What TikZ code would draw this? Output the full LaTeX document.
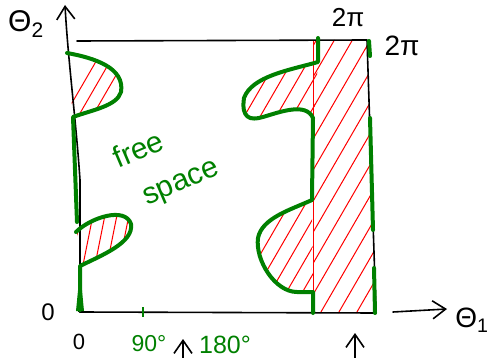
\documentclass[tikz,border=0pt]{standalone}
\usepackage{fontspec}
\setmainfont{Liberation Sans}
\usetikzlibrary{arrows.meta}
\definecolor{pgreen}{RGB}{0,128,0}
\definecolor{pred}{RGB}{255,0,0}
\begin{document}
\begin{tikzpicture}[x=1pt,y=-1pt,
  axis/.style={black, line width=1.6pt, line cap=round, line join=round},
  obst/.style={pgreen, line width=4pt, line cap=round, line join=round},
  hatch/.style={pred, line width=1pt},
  barb/.style={-{Straight Barb[length=13pt,width=18pt,line width=1.6pt]}},
  lbl/.style={inner sep=0pt, outer sep=0pt}]
\useasboundingbox (0,0) rectangle (489,358);
% coordinates
\coordinate (O) at (80,312);
\coordinate (Ytip) at (65,5);
\coordinate (TL) at (77,41);
\coordinate (TR) at (367,40);
\coordinate (BR) at (376,313);
\coordinate (RLt) at (313,41);
\coordinate (RLb) at (313,313);
% hatching: right strip
\begin{scope}
  \clip (313,40) -- (367,40) -- (375,313) -- (313,313) -- cycle;
  \foreach \i in {90,108,...,340} \draw[hatch] (\i,400) -- ++(220,-380);
\end{scope}
% upper right bump
\begin{scope}
  \clip (318,62) .. controls (290,70) and (252,76) .. (244,98) .. controls (241,118) and (250,121) .. (263,117) .. controls (280,112) and (306,102) .. (314,118) -- cycle;
  \foreach \i in {0,16,...,320} \draw[hatch] (\i,400) -- ++(220,-380);
\end{scope}
% lower right bump
\begin{scope}
  \clip (312,200) .. controls (290,210) and (262,218) .. (258,238) .. controls (255,260) and (275,292) .. (297,292) -- (313,292) -- cycle;
  \foreach \i in {0,16,...,320} \draw[hatch] (\i,400) -- ++(220,-380);
\end{scope}
% upper left bump
\begin{scope}
  \clip (67,53) .. controls (95,58) and (125,68) .. (121,92) .. controls (117,106) and (92,110) .. (73,117) -- cycle;
  \foreach \i in {-100,-86,...,100} \draw[hatch] (\i,400) -- ++(220,-380);
\end{scope}
% lower left bump
\begin{scope}
  \clip (77,232) .. controls (90,218) and (125,206) .. (131,224) .. controls (134,243) and (100,256) .. (80,266) -- cycle;
  \foreach \i in {20,32,...,140} \draw[hatch] (\i,400) -- ++(60,-300);
\end{scope}
% red boundary line
\draw[hatch] (RLt) -- (RLb);
% black frame and axes
\draw[axis, barb] (O) -- (80,180) .. controls (76,120) and (68,60) .. (Ytip);
\draw[axis] (TL) -- (TR) -- (BR);
\draw[axis] (O) -- (BR);
\fill (80,310) circle (2.5);
% green obstacle boundaries
\draw[obst] (67,53) .. controls (95,58) and (125,68) .. (121,92) .. controls (117,106) and (92,110) .. (73,117) -- (77,222);
\draw[obst] (76,232) .. controls (90,218) and (125,206) .. (131,224) .. controls (134,243) and (100,256) .. (80,266) -- (80,310);
\fill[pgreen] (80,270) -- (84,311) -- (76,311) -- cycle;
\draw[obst] (318,38) -- (318,62) .. controls (290,70) and (252,76) .. (244,98) .. controls (241,118) and (250,121) .. (263,117) .. controls (280,112) and (306,102) .. (313,118) -- (312,198) -- (312,200) .. controls (290,210) and (262,218) .. (258,238) .. controls (255,260) and (275,292) .. (297,292) -- (313,292) -- (313,313);
\draw[obst] (369,41) -- (370,56);
\draw[obst] (370,118) -- (373,230);
\draw[obst] (374,268) -- (375,313);
\draw[pgreen, line width=1.6pt] (143,307) -- (143,317);
% theta1 arrow and markers
\coordinate (a1s) at (393,312); \coordinate (a1e) at (447,309);
\draw[axis, barb] (a1s) -- (a1e);
\coordinate (u1s) at (183,358); \coordinate (u1e) at (183,339);
\draw[axis, barb] (u1s) -- (u1e);
\coordinate (u2s) at (355,358); \coordinate (u2e) at (355,333);
\draw[axis, barb] (u2s) -- (u2e);
% labels
\node[lbl, font=\fontsize{30}{30}\selectfont] (t2) at (26,24) {Θ\textsubscript{2}};
\node[lbl, font=\fontsize{26}{26}\selectfont] (tpi) at (348,18) {2π};
\node[lbl, font=\fontsize{28}{28}\selectfont] (rpi) at (402,46) {2π};
\node[lbl, font=\fontsize{24}{24}\selectfont] (z1) at (48,312) {0};
\node[lbl, font=\fontsize{22}{22}\selectfont] (z2) at (79,342) {0};
\node[lbl, pgreen, font=\fontsize{23}{23}\selectfont] (n90) at (149,344) {90°};
\node[lbl, pgreen, font=\fontsize{25}{25}\selectfont] (n180) at (225,345) {180°};
\node[lbl, pgreen, rotate=23, font=\fontsize{30}{30}\selectfont] (fs1) at (138,149) {free};
\node[lbl, pgreen, rotate=23, font=\fontsize{30}{30}\selectfont] (fs2) at (182,185) {space};
\node[lbl, font=\fontsize{28}{28}\selectfont] (t1) at (472,320) {Θ\textsubscript{1}};
\end{tikzpicture}
\end{document}
